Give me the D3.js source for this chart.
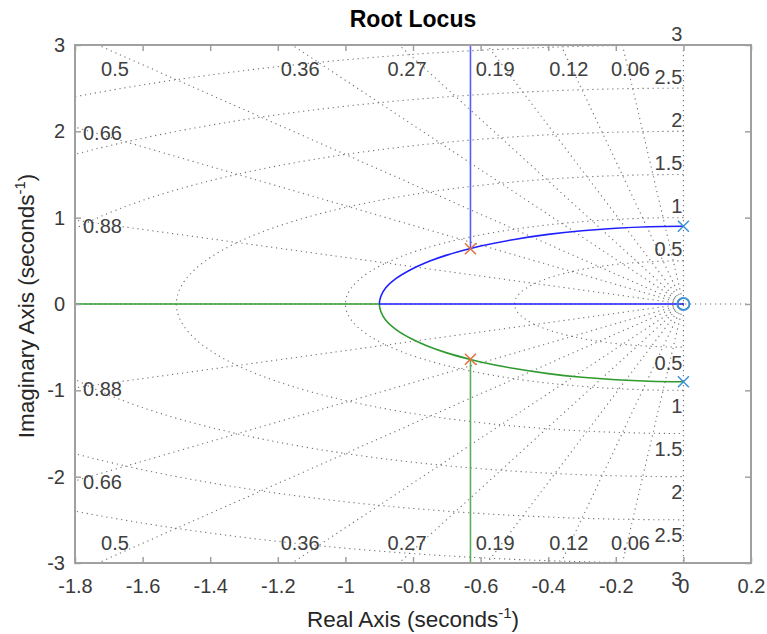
<!DOCTYPE html>
<html>
<head>
<meta charset="utf-8">
<script src="https://cdn.jsdelivr.net/npm/d3@7"></script>
<style>
  body { margin: 0; background: #fff; }
  text { font-family: "Liberation Sans", Arial, Helvetica, sans-serif; }
</style>
</head>
<body>
<div id="chart"></div>
<script>
const WIDTH = 767, HEIGHT = 634;

// axis ticks
const xTicks = [-1.8, -1.6, -1.4, -1.2, -1, -0.8, -0.6, -0.4, -0.2, 0, 0.2];
const yTicks = [-3, -2, -1, 0, 1, 2, 3];

// grid: damping ratios and natural frequencies
const zetaValues = [0.06, 0.12, 0.19, 0.27, 0.36, 0.5, 0.66, 0.88];
const wnValues = [0.5, 1, 1.5, 2, 2.5, 3];

// locus branches
const upperArc = [[0, 0.9], [-0.1, 0.894], [-0.2, 0.877], [-0.3, 0.848], [-0.4, 0.806],
  [-0.5, 0.748], [-0.6, 0.671], [-0.63, 0.643], [-0.7, 0.566], [-0.75, 0.498],
  [-0.8, 0.412], [-0.85, 0.296], [-0.88, 0.19], [-0.895, 0.09], [-0.9, 0]];
const lowerArc = [[0, -0.9], [-0.1, -0.894], [-0.2, -0.877], [-0.3, -0.848], [-0.4, -0.806],
  [-0.5, -0.748], [-0.6, -0.671], [-0.63, -0.643], [-0.7, -0.566], [-0.75, -0.498],
  [-0.8, -0.412], [-0.85, -0.296], [-0.88, -0.19], [-0.895, -0.09], [-0.9, 0]];
const blueReal = [[-0.9, 0], [0, 0]];
const greenReal = [[-0.9, 0], [-1.8, 0]];
const blueVertical = [[-0.63, 0.64], [-0.63, 3]];
const greenVertical = [[-0.63, -0.64], [-0.63, -3]];

// markers
const poles = [[0, 0.9], [0, -0.9]];
const zeros = [[0, 0]];
const gainPoints = [[-0.63, 0.64], [-0.63, -0.64]];

const pLeft = 75, pRight = 751, pTop = 45, pBottom = 563;
const x = d3.scaleLinear().domain([-1.8, 0.2]).range([pLeft, pRight]);
const y = d3.scaleLinear().domain([-3, 3]).range([pBottom, pTop]);

const svg = d3.select("#chart").append("svg")
  .attr("width", WIDTH).attr("height", HEIGHT);

svg.append("defs").append("clipPath").attr("id", "plotClip")
  .append("rect").attr("x", pLeft).attr("y", pTop)
  .attr("width", pRight - pLeft).attr("height", pBottom - pTop);

const grid = svg.append("g").attr("clip-path", "url(#plotClip)")
  .attr("fill", "none").attr("stroke", "#707070")
  .attr("stroke-width", 1.1).attr("stroke-dasharray", "1.2,3.8");

// wn half circles (ellipses in pixel space)
wnValues.forEach(function (wn) {
  const rx = x(wn) - x(0), ry = y(0) - y(wn);
  grid.append("path")
    .attr("d", `M${x(0)},${y(wn)} A${rx},${ry} 0 0 0 ${x(0)},${y(-wn)}`);
});

// zeta rays
zetaValues.forEach(function (z) {
  const s = Math.sqrt(1 - z * z);
  [1, -1].forEach(function (sign) {
    grid.append("line")
      .attr("x1", x(0)).attr("y1", y(0))
      .attr("x2", x(-10 * z)).attr("y2", y(sign * 10 * s));
  });
});
grid.append("line").attr("x1", x(-1.8)).attr("x2", x(0.2)).attr("y1", y(0)).attr("y2", y(0));
grid.append("line").attr("x1", x(0)).attr("x2", x(0)).attr("y1", y(3)).attr("y2", y(-3));

// grid labels
const labelColor = "#404040";
const labels = svg.append("g").attr("fill", labelColor).attr("font-size", 20);

zetaValues.forEach(function (z) {
  const s = Math.sqrt(1 - z * z);
  const xTop = -3 * z / s;
  if (xTop >= -1.8) {
    const px = Math.max(x(xTop) + 8, pLeft + 40);
    labels.append("text").attr("x", px).attr("y", pTop + 24)
      .attr("text-anchor", "middle").attr("dominant-baseline", "central").text(z);
    labels.append("text").attr("x", px).attr("y", pBottom - 20)
      .attr("text-anchor", "middle").attr("dominant-baseline", "central").text(z);
  } else {
    const yc = 1.8 * s / z;
    labels.append("text").attr("x", pLeft + 8).attr("y", y(yc) + 6)
      .attr("dominant-baseline", "central").text(z);
    labels.append("text").attr("x", pLeft + 8).attr("y", y(-yc) + 1)
      .attr("dominant-baseline", "central").text(z);
  }
});

wnValues.forEach(function (wn) {
  labels.append("text").attr("x", x(0) - 1).attr("y", y(wn) - 11.5)
    .attr("text-anchor", "end").attr("dominant-baseline", "central").text(wn);
  labels.append("text").attr("x", x(0) - 1).attr("y", y(-wn) + 15.5)
    .attr("text-anchor", "end").attr("dominant-baseline", "central").text(wn);
});

// locus lines
const line = d3.line().x(d => x(d[0])).y(d => y(d[1]));
const locus = svg.append("g").attr("clip-path", "url(#plotClip)")
  .attr("fill", "none").attr("stroke-width", 1.6);
locus.append("path").datum(upperArc).attr("stroke", "#1f1fff")
  .attr("d", line.curve(d3.curveCatmullRom));
locus.append("path").datum(lowerArc).attr("stroke", "#2e9a2e")
  .attr("d", line.curve(d3.curveCatmullRom));
line.curve(d3.curveLinear);
locus.append("path").datum(blueReal).attr("stroke", "#1f1fff").attr("d", line);
locus.append("path").datum(greenReal).attr("stroke", "#2e9a2e").attr("d", line);
locus.append("path").datum(blueVertical).attr("stroke", "#5a5aff").attr("d", line);
locus.append("path").datum(greenVertical).attr("stroke", "#5aae5a").attr("d", line);

// markers
function cross(g, pts, color) {
  pts.forEach(function (p) {
    const cx = x(p[0]), cy = y(p[1]), r = 5.5;
    g.append("path")
      .attr("d", `M${cx - r},${cy - r}L${cx + r},${cy + r}M${cx - r},${cy + r}L${cx + r},${cy - r}`)
      .attr("stroke", color).attr("stroke-width", 1.5).attr("fill", "none");
  });
}
const marks = svg.append("g");
cross(marks, poles, "#3b93d6");
cross(marks, gainPoints, "#e2703f");
marks.selectAll("circle.zero").data(zeros).enter().append("circle")
  .attr("class", "zero")
  .attr("cx", d => x(d[0])).attr("cy", d => y(d[1])).attr("r", 6)
  .attr("fill", "none").attr("stroke", "#3b93d6").attr("stroke-width", 2);

// axes box and ticks
const axisColor = "#a0a0a0";
svg.append("rect").attr("x", pLeft).attr("y", pTop)
  .attr("width", pRight - pLeft).attr("height", pBottom - pTop)
  .attr("fill", "none").attr("stroke", axisColor).attr("stroke-width", 2);

const fmt = d => String(d);
const axisBottom = d3.axisBottom(x).tickValues(xTicks).tickSize(-6).tickPadding(16).tickFormat(fmt);
const axisTop = d3.axisTop(x).tickValues(xTicks).tickSize(-6).tickFormat("");
const axisLeft = d3.axisLeft(y).tickValues(yTicks).tickSize(-6).tickPadding(10).tickFormat(fmt);
const axisRight = d3.axisRight(y).tickValues(yTicks).tickSize(-6).tickFormat("");

function styleAxis(g) {
  g.select(".domain").remove();
  g.selectAll(".tick line").attr("stroke", axisColor).attr("stroke-width", 1.5);
  g.selectAll(".tick text").attr("fill", "#3a3a3a").attr("font-size", 20)
    .attr("font-family", "Liberation Sans, Arial, sans-serif");
}
svg.append("g").attr("transform", `translate(0,${pBottom})`).call(axisBottom).call(styleAxis);
svg.append("g").attr("transform", `translate(0,${pTop})`).call(axisTop).call(styleAxis);
svg.append("g").attr("transform", `translate(${pLeft},0)`).call(axisLeft).call(styleAxis);
svg.append("g").attr("transform", `translate(${pRight},0)`).call(axisRight).call(styleAxis);

// title and axis labels
svg.append("text").attr("x", (pLeft + pRight) / 2).attr("y", 27)
  .attr("text-anchor", "middle").attr("font-size", 23).attr("font-weight", "bold")
  .attr("fill", "#000").text("Root Locus");

const xl = svg.append("text").attr("x", (pLeft + pRight) / 2).attr("y", 627)
  .attr("text-anchor", "middle").attr("font-size", 22.5).attr("fill", "#262626");
xl.append("tspan").text("Real Axis (seconds");
xl.append("tspan").attr("font-size", 15).attr("dy", -9).text("-1");
xl.append("tspan").attr("dy", 9).text(")");

const yl = svg.append("text")
  .attr("transform", `translate(34,${(pTop + pBottom) / 2 + 2}) rotate(-90)`)
  .attr("text-anchor", "middle").attr("font-size", 22.5).attr("fill", "#262626");
yl.append("tspan").text("Imaginary Axis (seconds");
yl.append("tspan").attr("font-size", 15).attr("dy", -9).text("-1");
yl.append("tspan").attr("dy", 9).text(")");
</script>
</body>
</html>
